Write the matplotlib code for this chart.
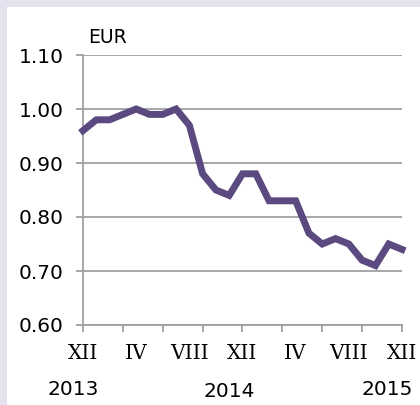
import matplotlib

matplotlib.use("Agg")
import matplotlib.pyplot as plt
from matplotlib.patches import Rectangle
from matplotlib.transforms import blended_transform_factory

# monthly values, XII 2013 .. XII 2015
values = [0.96, 0.98, 0.98, 0.99, 1.00, 0.99, 0.99, 1.00, 0.97, 0.88, 0.85, 0.84, 0.88,
          0.88, 0.83, 0.83, 0.83, 0.77, 0.75, 0.76, 0.75, 0.72, 0.71, 0.75, 0.74]
month_labels = ["XII", "IV", "VIII", "XII", "IV", "VIII", "XII"]
year_labels = ["2013", "2014", "2015"]
y_ticks = [0.60, 0.70, 0.80, 0.90, 1.00, 1.10]

W, H = 420, 405
plt.rcParams["font.family"] = ["DejaVu Sans"]

fig = plt.figure(figsize=(W / 100, H / 100), dpi=100, facecolor="#e6e1ee")
fig.patches.append(Rectangle((7 / W, 0), 1, 1 - 7 / H, transform=fig.transFigure,
                             facecolor="white", edgecolor="none", zorder=-5))

ax = fig.add_axes([83 / W, 1 - 325 / H, (402 - 83) / W, (325 - 55) / H])
ax.set_facecolor("white")

x = list(range(len(values)))
ax.plot(x, values, color="#5b4a80", linewidth=5, solid_joinstyle="miter", zorder=3, clip_on=False)

grid_color = "#a0a0a0"
ax.set_xlim(0, len(values) - 1)
ax.set_ylim(0.60, 1.10)
ax.set_yticks(y_ticks)
ax.set_yticklabels([f"{v:.2f}" for v in y_ticks])
ax.yaxis.grid(True, color=grid_color, linewidth=1.3)
ax.set_axisbelow(True)

# ticks every 3 months, labels every 4 months
ax.xaxis.remove_overlapping_locs = False
ax.set_xticks(range(0, len(values), 3))
ax.set_xticklabels([])
ax.set_xticks(range(0, len(values), 4), minor=True)
ax.set_xticklabels(month_labels, minor=True)

for side in ["top", "right"]:
    ax.spines[side].set_visible(False)
for side in ["left", "bottom"]:
    ax.spines[side].set_color(grid_color)
    ax.spines[side].set_linewidth(1.3)

ax.tick_params(axis="y", which="major", length=5, width=1.3, color=grid_color,
               labelsize=14.5, pad=9)
ax.tick_params(axis="x", which="major", length=5, width=1.3, color=grid_color)
ax.tick_params(axis="x", which="minor", length=0, labelsize=14.5, pad=14,
               labelfontfamily="DejaVu Serif")

trans = blended_transform_factory(ax.transData, ax.transAxes)
year_x = [-0.75, 11.0, 22.9]
year_y = [-0.239, -0.246, -0.239]
for xp, yp, lab in zip(year_x, year_y, year_labels):
    ax.text(xp, yp, lab, transform=trans, ha="center", va="center", fontsize=14.5)

ax.text(0.015, 1.03, "EUR", transform=ax.transAxes, ha="left", va="bottom", fontsize=13.5)

fig.savefig("out.png", dpi=100, facecolor=fig.get_facecolor())
